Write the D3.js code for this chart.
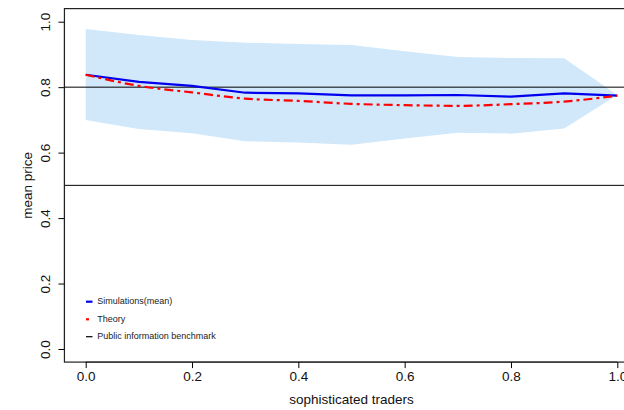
<!DOCTYPE html>
<html>
<head>
<meta charset="utf-8">
<script src="https://cdn.jsdelivr.net/npm/d3@7"></script>
<style>
  body { margin: 0; background: #fff; }
  svg { display: block; font-family: "Liberation Sans", Arial, sans-serif; }
</style>
</head>
<body>
<svg id="chart" width="624" height="410"></svg>
<script>
const xs = [0.0, 0.1, 0.2, 0.3, 0.4, 0.5, 0.6, 0.7, 0.8, 0.9, 1.0];
const bandUpper = [0.978, 0.959, 0.944, 0.936, 0.932, 0.929, 0.910, 0.892, 0.889, 0.888, 0.776];
const bandLower = [0.700, 0.672, 0.659, 0.635, 0.631, 0.624, 0.643, 0.661, 0.658, 0.674, 0.776];
const simMean  = [0.838, 0.816, 0.804, 0.783, 0.781, 0.775, 0.775, 0.776, 0.771, 0.781, 0.774];
const theory   = [0.838, 0.804, 0.784, 0.765, 0.758, 0.749, 0.745, 0.743, 0.748, 0.756, 0.774];
const benchmarks = [0.8, 0.5];
const xTicks = [0, 0.2, 0.4, 0.6, 0.8, 1.0];
const yTicks = [0, 0.2, 0.4, 0.6, 0.8, 1.0];
const legendLabels = ["Simulations(mean)", "Theory", "Public information benchmark"];

const svg = d3.select("#chart");
const x = d3.scaleLinear().domain([0, 1]).range([85.7, 617.3]);
const y = d3.scaleLinear().domain([0, 1]).range([349, 21.7]);
const x0 = x(-0.04), x1 = x(1.04), yTop = y(1.04), yBot = y(-0.04);

const plot = svg.append("g");
plot.append("clipPath").attr("id", "clip").append("rect")
  .attr("x", x0).attr("y", yTop).attr("width", x1 - x0).attr("height", yBot - yTop);
const g = plot.append("g").attr("clip-path", "url(#clip)");

const rows = xs.map((v, i) => ({x: v, lo: bandLower[i], hi: bandUpper[i], m: simMean[i], t: theory[i]}));

g.append("path").datum(rows)
  .attr("d", d3.area().x(d => x(d.x)).y0(d => y(d.lo)).y1(d => y(d.hi)))
  .attr("fill", "#d0e8fa");

benchmarks.forEach(b => {
  g.append("line").attr("x1", x0).attr("x2", x1).attr("y1", y(b)).attr("y2", y(b))
    .attr("stroke", "#000").attr("stroke-width", 1);
});

g.append("path").datum(rows)
  .attr("d", d3.line().x(d => x(d.x)).y(d => y(d.m)))
  .attr("fill", "none").attr("stroke", "#0000ee").attr("stroke-width", 2.2);

g.append("path").datum(rows)
  .attr("d", d3.line().curve(d3.curveMonotoneX).x(d => x(d.x)).y(d => y(d.t)))
  .attr("fill", "none").attr("stroke", "#ff0000").attr("stroke-width", 2.2)
  .attr("stroke-dasharray", "9,4,3,4");

// box
svg.append("rect").attr("x", x0).attr("y", yTop).attr("width", x1 - x0).attr("height", yBot - yTop)
  .attr("fill", "none").attr("stroke", "#222").attr("stroke-width", 1.2);

// x axis
const xAxis = svg.append("g").attr("transform", `translate(0,${yBot})`)
  .call(d3.axisBottom(x).tickValues(xTicks).tickFormat(d3.format(".1f")).tickSize(6).tickPadding(3));
xAxis.select(".domain").attr("d", `M${x(0)},0H${x(1)}`).attr("stroke", "#222");
xAxis.selectAll("text").attr("font-size", "13.5px").attr("fill", "#111").attr("font-family", "Liberation Sans, Arial, sans-serif");

// y axis
const yAxis = svg.append("g").attr("transform", `translate(${x0},0)`)
  .call(d3.axisLeft(y).tickValues(yTicks).tickFormat(d3.format(".1f")).tickSize(6).tickPadding(0));
yAxis.select(".domain").attr("d", `M0,${y(0)}V${y(1)}`).attr("stroke", "#222");
yAxis.selectAll("text")
  .attr("font-size", "13.5px").attr("fill", "#111").attr("font-family", "Liberation Sans, Arial, sans-serif")
  .attr("text-anchor", "middle")
  .attr("x", null).attr("dy", null)
  .attr("transform", "translate(-17.7,0) rotate(-90)")
  .attr("y", 0).attr("dominant-baseline", "middle");

// axis titles
svg.append("text").attr("x", x(0.5)).attr("y", 404).attr("text-anchor", "middle")
  .attr("font-size", "13.5px").attr("fill", "#111").text("sophisticated traders");
svg.append("text").attr("transform", `translate(28,${y(0.5)}) rotate(-90)`)
  .attr("text-anchor", "middle").attr("dominant-baseline", "middle")
  .attr("font-size", "13.5px").attr("fill", "#111").text("mean price");

// legend
const legColors = ["#0000ee", "#ff0000", "#000"];
const legWidths = [2.2, 2.2, 1.2];
const legDash = [null, "3,20", null];
const legY = [301.7, 319.3, 336.7];
legendLabels.forEach((lab, i) => {
  svg.append("line").attr("x1", 86).attr("x2", 92.5).attr("y1", legY[i]).attr("y2", legY[i])
    .attr("stroke", legColors[i]).attr("stroke-width", legWidths[i])
    .attr("stroke-dasharray", legDash[i]);
  svg.append("text").attr("x", 97.3).attr("y", legY[i]).attr("dominant-baseline", "middle")
    .attr("font-size", "9px").attr("fill", "#222").text(lab);
});
</script>
</body>
</html>
